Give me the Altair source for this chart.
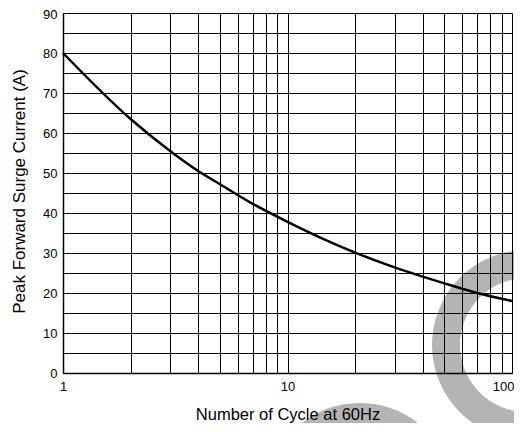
import altair as alt
import pandas as pd

# Data
cycles = [1, 2, 3, 4, 5, 7, 10, 15, 20, 30, 40, 50, 70, 100]
current = [80, 63.5, 55.5, 50.5, 47.2, 42.3, 37.8, 33.1, 30.1, 26.4, 24.1, 22.4, 20.0, 18.0]

x_grid = [1, 2, 3, 4, 5, 6, 7, 8, 9, 10, 20, 30, 40, 50, 60, 70, 80, 90, 100]
y_grid = [0, 5, 10, 15, 20, 25, 30, 35, 40, 45, 50, 55, 60, 65, 70, 75, 80, 85, 90]

df = pd.DataFrame({"cycles": cycles, "current": current})

FONT = "Liberation Sans"
WM = "#b4b4b4"

x_axis = alt.Axis(
    values=x_grid,
    labelExpr="indexof([1, 10, 100], datum.value) >= 0 ? format(datum.value, 'd') : ''",
    grid=True, gridColor="black", gridOpacity=1, gridWidth=1,
    ticks=False, tickSize=0, domain=True, domainColor="black", domainWidth=1.5,
    labelFont=FONT, labelFontSize=13, labelColor="black", labelPadding=7,
    labelFlush=False, labelOverlap=False,
    labelAlign=alt.ExprRef(expr="datum.value == 100 ? 'right' : 'center'"),
    labelOffset=alt.ExprRef(expr="datum.value == 100 ? 2 : 0"),
    title="Number of Cycle at 60Hz", titleFont=FONT, titleFontSize=16.5,
    titleFontWeight="normal", titleColor="black",
    titleBaseline="alphabetic", titleY=46, zindex=1,
)
y_axis = alt.Axis(
    values=y_grid,
    labelExpr="datum.value % 10 == 0 ? format(datum.value, 'd') : ''",
    grid=True, gridColor="black", gridOpacity=1, gridWidth=1,
    ticks=False, tickSize=0, domain=True, domainColor="black", domainWidth=1.5,
    labelFont=FONT, labelFontSize=13, labelColor="black", labelPadding=6,
    labelFlush=False, labelOverlap=False,
    labelOffset=alt.ExprRef(expr="datum.value == 90 ? 1.5 : 0"),
    title="Peak Forward Surge Current (A)", titleFont=FONT, titleFontSize=17,
    titleFontWeight="normal", titleColor="black",
    titleBaseline="alphabetic", titleX=-39, titleY=178, zindex=1,
)

line = alt.Chart(df).mark_line(color="black", strokeWidth=2.5, interpolate="monotone").encode(
    x=alt.X("cycles:Q", scale=alt.Scale(type="log", domain=[1, 100], nice=False), axis=x_axis),
    y=alt.Y("current:Q", scale=alt.Scale(domain=[0, 90], nice=False), axis=y_axis),
)

# watermark rings (decoration, behind the grid)
ring_right = alt.Chart(alt.Data(values=[{"k": 1}])).mark_arc(
    color=WM, radius=95, radius2=67, theta=0, theta2=6.2832
).encode(x=alt.value(464), y=alt.value(332))
ring_bottom = alt.Chart(alt.Data(values=[{"k": 1}])).mark_arc(
    color=WM, radius=95, radius2=75, theta=4.712, theta2=6.93
).encode(x=alt.value(297), y=alt.value(485))

chart = alt.layer(ring_right, ring_bottom, line).properties(
    width=449, height=360,
    padding={"left": 55, "top": 5, "right": 2, "bottom": 50},
    autosize="none",
).configure_view(stroke="black", strokeWidth=1.5).configure(background="white")

chart.save("out.html", embed_options={"renderer": "svg", "actions": False})
